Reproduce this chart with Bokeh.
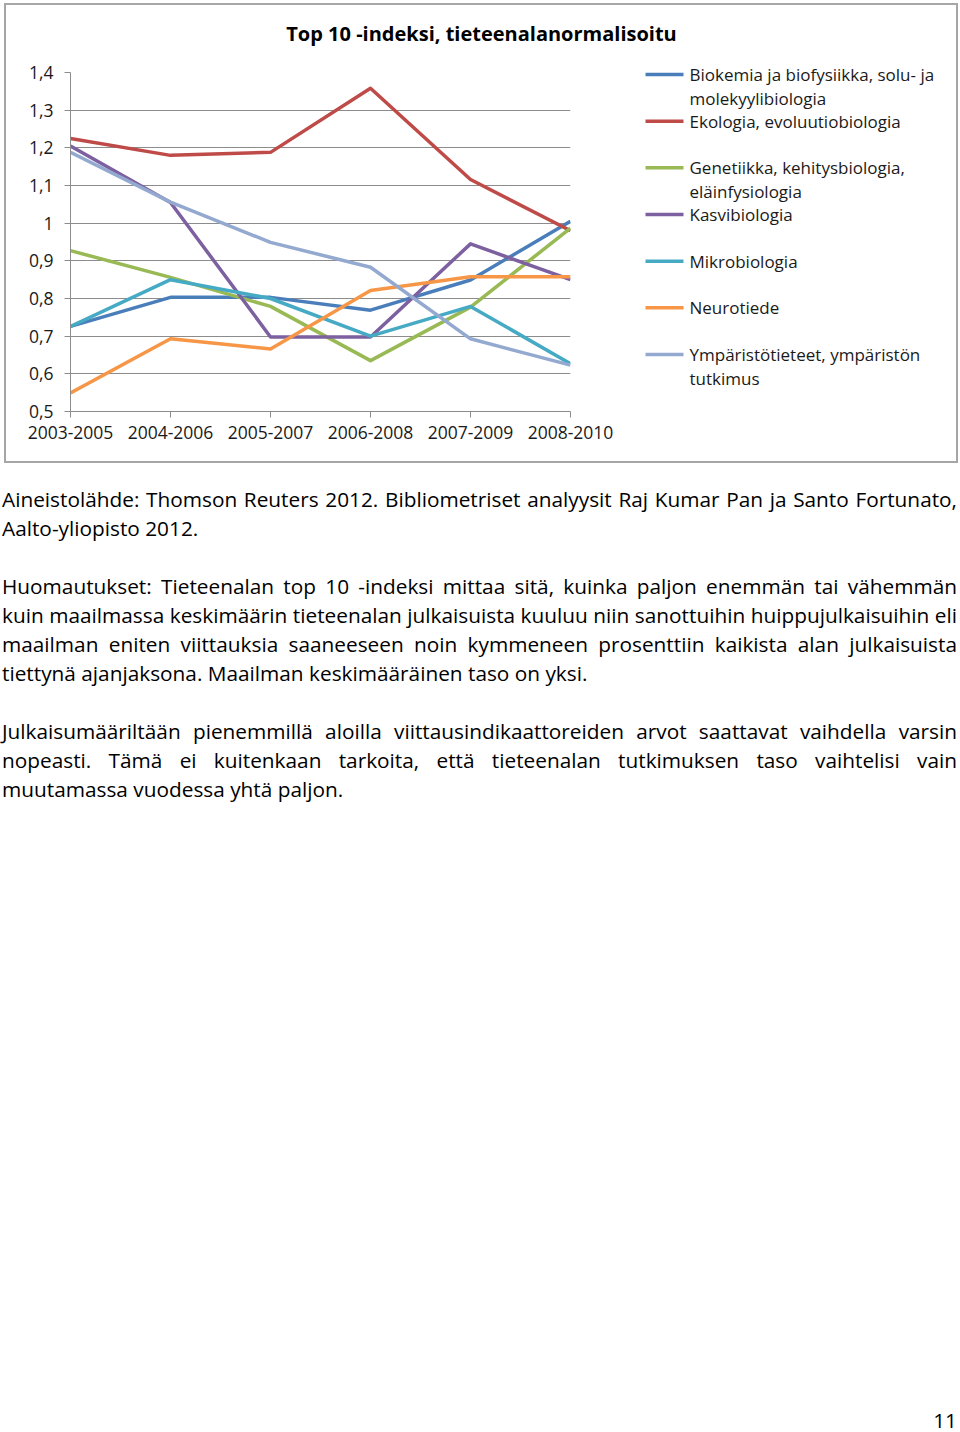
from bokeh.plotting import figure
from bokeh.models import Range1d, FixedTicker, Div
from bokeh.layouts import column, row
from bokeh.embed import file_html
from bokeh.resources import INLINE
from bokeh.core.properties import value

FONT = "Open Sans"

# ---------------- data ----------------
periods = ["2003-2005", "2004-2006", "2005-2007", "2006-2008", "2007-2009", "2008-2010"]
x_idx = list(range(len(periods)))

series_names = [
    "Biokemia ja biofysiikka, solu- ja\nmolekyylibiologia",
    "Ekologia, evoluutiobiologia",
    "Genetiikka, kehitysbiologia,\neläinfysiologia",
    "Kasvibiologia",
    "Mikrobiologia",
    "Neurotiede",
    "Ympäristötieteet, ympäristön\ntutkimus",
]
biokemia = [0.726, 0.803, 0.803, 0.769, 0.849, 1.005]
ekologia = [1.225, 1.180, 1.188, 1.358, 1.116, 0.980]
genetiikka = [0.927, 0.856, 0.779, 0.635, 0.777, 0.987]
kasvibiologia = [1.205, 1.055, 0.698, 0.698, 0.945, 0.850]
mikrobiologia = [0.726, 0.850, 0.800, 0.700, 0.779, 0.627]
neurotiede = [0.549, 0.693, 0.666, 0.821, 0.858, 0.858]
ymparisto = [1.188, 1.056, 0.949, 0.883, 0.693, 0.623]
series_values = [biokemia, ekologia, genetiikka, kasvibiologia, mikrobiologia, neurotiede, ymparisto]
series_colors = ["#4A7EBB", "#BE4B48", "#98B954", "#7D60A0", "#46AAC5", "#F79646", "#93A9D0"]

y_ticks = [0.5, 0.6, 0.7, 0.8, 0.9, 1.0, 1.1, 1.2, 1.3, 1.4]
y_tick_labels = ["0,5", "0,6", "0,7", "0,8", "0,9", "1", "1,1", "1,2", "1,3", "1,4"]

title_text = "Top 10 -indeksi, tieteenalanormalisoitu"

paragraphs = [
    ["Aineistolähde: Thomson Reuters 2012. Bibliometriset analyysit Raj Kumar Pan ja Santo Fortunato,",
     "Aalto-yliopisto 2012."],
    ["Huomautukset: Tieteenalan top 10 -indeksi mittaa sitä, kuinka paljon enemmän tai vähemmän",
     "kuin maailmassa keskimäärin tieteenalan julkaisuista kuuluu niin sanottuihin huippujulkaisuihin eli",
     "maailman eniten viittauksia saaneeseen noin kymmeneen prosenttiin kaikista alan julkaisuista",
     "tiettynä ajanjaksona. Maailman keskimääräinen taso on yksi."],
    ["Julkaisumääriltään pienemmillä aloilla viittausindikaattoreiden arvot saattavat vaihdella varsin",
     "nopeasti. Tämä ei kuitenkaan tarkoita, että tieteenalan tutkimuksen taso vaihtelisi vain",
     "muutamassa vuodessa yhtä paljon."],
]
page_number = "11"

# ---------------- layout constants ----------------
INNER_W, TITLE_H, BODY_H = 950, 50, 406
MAIN_W = 624
LEG_W = INNER_W - MAIN_W
GRID = "#8c8c8c"
TXT = "#1a1a1a"
BODY_FS = "20.8px"

# title strip
tf = figure(width=INNER_W, height=TITLE_H, x_range=Range1d(0, INNER_W), y_range=Range1d(TITLE_H, 0),
            x_axis_location=None, y_axis_location=None, min_border=0,
            output_backend="svg", toolbar_location=None)
tf.frame_align = False
tf.grid.visible = False
tf.outline_line_color = None
tf.text(x=[INNER_W / 2], y=[28], text=[title_text], text_align="center", text_baseline="middle",
        text_font=value(FONT), text_font_size="20px", text_font_style="bold", text_color="#000000")

# main chart
p = figure(width=MAIN_W, height=BODY_H,
           x_range=Range1d(x_idx[0], x_idx[-1]), y_range=Range1d(y_ticks[0], y_ticks[-1]),
           min_border_left=64, min_border_right=60, min_border_top=17, min_border_bottom=50,
           output_backend="svg", toolbar_location=None)
p.frame_align = False
p.outline_line_color = None
p.xgrid.visible = False
p.ygrid.ticker = FixedTicker(ticks=y_ticks)
p.ygrid.grid_line_color = GRID
p.ygrid.grid_line_width = 1

p.yaxis.ticker = FixedTicker(ticks=y_ticks)
p.yaxis.major_label_overrides = dict(zip(y_ticks, y_tick_labels))
p.xaxis.ticker = FixedTicker(ticks=x_idx)
p.xaxis.major_label_overrides = dict(zip(x_idx, periods))
for ax in (p.xaxis, p.yaxis):
    ax.axis_line_color = GRID
    ax.major_tick_line_color = GRID
    ax.minor_tick_line_color = None
    ax.major_tick_in = 0
    ax.major_tick_out = 6
    ax.major_label_text_font = FONT
    ax.major_label_text_font_size = "17.5px"
    ax.major_label_text_color = TXT
p.yaxis.major_label_standoff = 11
p.xaxis.major_label_standoff = 8

for vals, col in zip(series_values, series_colors):
    p.line(x_idx, vals, line_color=col, line_width=3.5, line_join="round")

# legend panel (coordinates measured from the panel's top-left corner)
lf = figure(width=LEG_W, height=BODY_H, x_range=Range1d(0, LEG_W), y_range=Range1d(BODY_H, 0),
            x_axis_location=None, y_axis_location=None, min_border=0,
            output_backend="svg", toolbar_location=None)
lf.frame_align = False
lf.grid.visible = False
lf.outline_line_color = None
step = 46.67
y0 = 19
ys = [y0 + i * step for i in range(len(series_names))]
lf.segment(x0=[15] * len(ys), y0=ys, x1=[53] * len(ys), y1=ys, line_color=series_colors, line_width=3.5)
tx, ty, tt = [], [], []
for yy, name in zip(ys, series_names):
    for k, part in enumerate(name.split("\n")):
        tx.append(59)
        ty.append(yy + 24 * k)
        tt.append(part)
lf.text(x=tx, y=ty, text=tt, text_align="left", text_baseline="middle",
        text_font=value(FONT), text_font_size="17px", text_color=TXT)

box = column(tf, row(p, lf), styles={"border": "2px solid #a6a6a6"}, margin=(3, 0, 0, 4))

# text below
parts = []
for pi, para in enumerate(paragraphs):
    if pi > 0:
        parts.append('<div style="height:29px"></div>')
    for li, line in enumerate(para):
        if li < len(para) - 1:
            parts.append(f'<div style="text-align:justify;text-align-last:justify;white-space:normal;">{line}</div>')
        else:
            parts.append(f'<div style="text-align:left;">{line}</div>')
html = (f'<div style="position:relative;width:955px;height:945px;font-family:\'{FONT}\';font-size:{BODY_FS};'
        f'line-height:29px;color:#000;">' + "".join(parts) +
        f'<div style="position:absolute;right:0;top:925px;line-height:20px;">{page_number}</div></div>')
txt = Div(text=html, width=955, height=945, margin=(22, 0, 0, 2))

layout = column(box, txt)
open("out.html", "w").write(file_html(layout, INLINE))
